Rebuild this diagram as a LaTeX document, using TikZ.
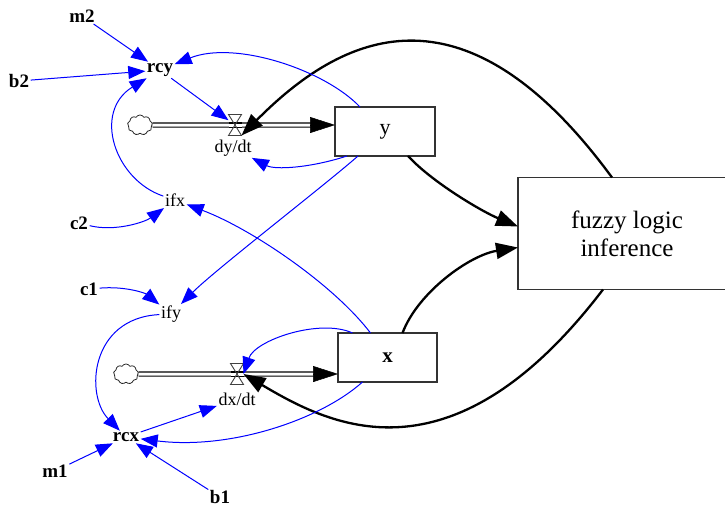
\documentclass[tikz,border=0pt]{standalone}
\usepackage{fontspec}
\setmainfont{Liberation Serif}
\usetikzlibrary{arrows.meta,shapes.symbols}
\begin{document}
\begin{tikzpicture}[x=1pt,y=-1pt,
  lbl/.style={inner sep=1.5pt, font=\rmfamily\fontsize{18}{20}\selectfont},
  blbl/.style={inner sep=1.5pt, font=\rmfamily\fontsize{19}{21}\selectfont\bfseries},
  stock/.style={draw=black!80, line width=1.2pt, inner sep=0pt, outer sep=0pt},
  valvebox/.style={inner sep=0pt, outer sep=0pt, minimum width=13pt, minimum height=21pt},
  valveline/.style={draw=black!75, line width=0.9pt},
  cloudnode/.style={cloud, cloud puffs=9, cloud puff arc=120, draw=black!85, line width=0.8pt, minimum width=25pt, minimum height=20pt, inner sep=0pt},
  pipe/.style={draw=black, double=white, double distance=3pt, line width=1.1pt},
  pipehead/.style={line width=0.5pt, -{Triangle[length=25pt,width=16pt]}},
  link/.style={blue, line width=1pt, -{Triangle[length=17pt,width=13pt]}},
  blink/.style={black, line width=2.3pt, -{Triangle[length=22pt,width=16pt]}},
]
\useasboundingbox (0,0) rectangle (725,509);

% stocks
\node[stock, minimum width=100pt, minimum height=49pt, font=\rmfamily\fontsize{22}{24}\selectfont] (ybox) at (385,131.5) {y};
\node[stock, minimum width=99pt, minimum height=49pt, font=\rmfamily\fontsize{21}{23}\selectfont\bfseries] (xbox) at (387.5,357.5) {x};
\node[stock, minimum width=218pt, minimum height=112pt, align=center, font=\rmfamily\fontsize{25}{28}\selectfont] (fz) at (627,233.5) {fuzzy logic\\inference};

% valves and clouds
\node[valvebox] (vy) at (235,125) {};
\node[valvebox] (vx) at (237,374) {};
\node[cloudnode] (cy) at (140,125) {};
\node[cloudnode] (cx) at (126,374) {};

% labels
\node[lbl] (dydt) at (233,148) {dy/dt};
\node[lbl] (dxdt) at (237,399) {dx/dt};
\node[blbl] (m2) at (82,16) {m2};
\node[blbl] (rcy) at (160,70) {rcy};
\node[blbl] (b2) at (19,81) {b2};
\node[lbl] (ifx) at (175,200) {ifx};
\node[blbl] (c2) at (79,223) {c2};
\node[blbl] (c1) at (89,289) {c1};
\node[lbl] (ify) at (171,314) {ify};
\node[blbl] (rcx) at (126,437) {rcx};
\node[blbl] (m1) at (55,471) {m1};
\node[blbl] (b1) at (220,497) {b1};

% pipes
\coordinate (yin) at (ybox.west |- vy.center);
\coordinate (xin) at (xbox.west |- vx.center);
\draw[pipe, shorten >=22pt] (cy.east) -- (yin);
\draw[pipe, shorten >=22pt] (cx.east) -- (xin);
\draw[pipehead] ([xshift=-25pt]yin) -- (yin);
\draw[pipehead] ([xshift=-25pt]xin) -- (xin);
\fill[white] (vy.north west) -- (vy.north east) -- (vy.south west) -- (vy.south east) -- cycle;
\fill[white] (vx.north west) -- (vx.north east) -- (vx.south west) -- (vx.south east) -- cycle;
\draw[pipe] (vy.west) -- (vy.east);
\draw[pipe] (vx.west) -- (vx.east);
\draw[valveline] (vy.north west) -- (vy.north east) -- (vy.south west) -- (vy.south east) -- cycle;
\draw[valveline] (vx.north west) -- (vx.north east) -- (vx.south west) -- (vx.south east) -- cycle;

% black links
\draw[blink] ([xshift=-15pt]fz.north) .. controls (462,-27) and (340,36) .. (vy.south east);
\draw[blink] ([xshift=-24pt]fz.south) .. controls (450,490) and (328,424) .. (vx.east);
\draw[blink] ([xshift=23pt]ybox.south) .. controls (433,183) and (483,212) .. ([yshift=7pt]fz.west);
\draw[blink] ([xshift=15pt]xbox.north) .. controls (418,292) and (470,255) .. ([yshift=-14pt]fz.west);

% blue links
\draw[link] (m2) -- (rcy);
\draw[link] (b2) -- (rcy);
\draw[link] (rcy) -- (vy);
\draw[link] ([xshift=-25pt]ybox.north) .. controls (325,70) and (235,40) .. (rcy);
\draw[link] (ifx) .. controls (115,180) and (92,112) .. (rcy);
\draw[link] (c2) .. controls (115,232) and (145,222) .. (ifx);
\draw[link] ([xshift=-17pt]xbox.north) .. controls (334,285) and (252,229) .. (ifx);
\draw[link] ([xshift=-27pt]ybox.south) .. controls (325,185) and (215,270) .. (ify);
\draw[link] (c1) .. controls (125,286) and (145,293) .. (ify);
\draw[link] (ify) .. controls (90,318) and (85,395) .. (rcx);
\draw[link] (rcx) -- (dxdt);
\draw[link] (m1) -- (rcx);
\draw[link] (b1) -- (rcx);
\draw[link] ([xshift=-25pt]xbox.south) .. controls (320,420) and (230,450) .. (rcx);
\draw[link] ([xshift=-35pt]xbox.north) .. controls (320,318) and (255,340) .. (vx.east);
\draw[link] ([xshift=-38pt]ybox.south) .. controls (310,168) and (275,170) .. (dydt);
\end{tikzpicture}
\end{document}
